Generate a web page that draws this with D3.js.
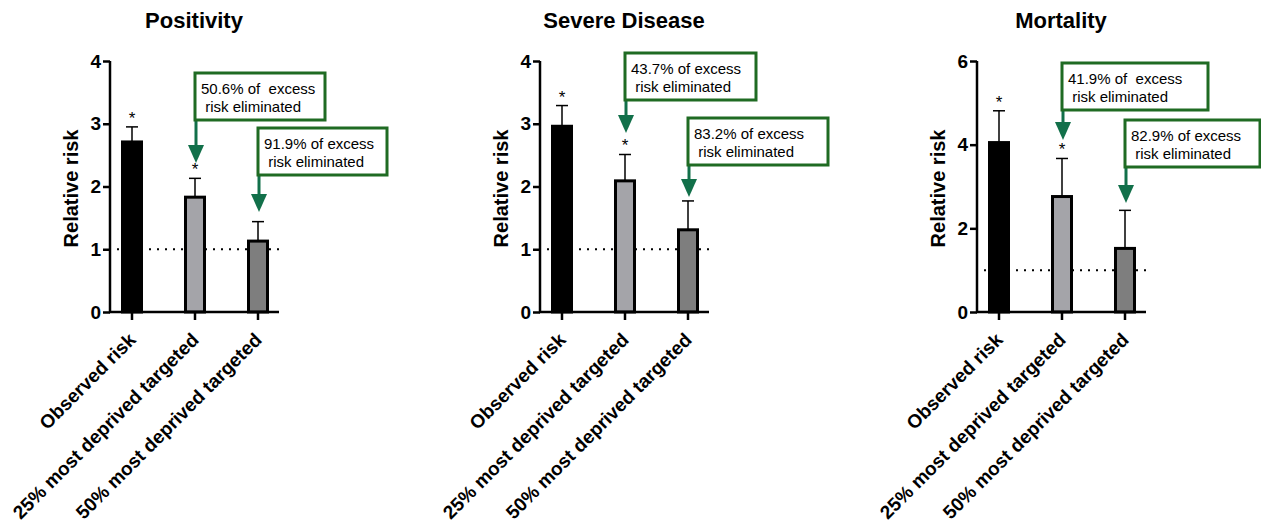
<!DOCTYPE html>
<html>
<head>
<meta charset="utf-8">
<script src="https://cdn.jsdelivr.net/npm/d3@7"></script>
<style>
  body { margin: 0; background: #fff; }
  svg { display: block; font-family: "Liberation Sans", Arial, sans-serif; }
</style>
</head>
<body>
<svg id="chart" width="1261" height="523"></svg>
<script>
// data
const categories = ["Observed risk", "25% most deprived targeted", "50% most deprived targeted"];
const panelTitles = ["Positivity", "Severe Disease", "Mortality"];
const yMax = [4, 4, 6];
const yTicks = [[0, 1, 2, 3, 4], [0, 1, 2, 3, 4], [0, 2, 4, 6]];

const positivityRR = [2.71, 1.83, 1.13];
const positivityUpper = [2.95, 2.13, 1.44];
const severeRR = [2.96, 2.09, 1.31];
const severeUpper = [3.29, 2.51, 1.77];
const mortalityRR = [4.05, 2.76, 1.52];
const mortalityUpper = [4.81, 3.67, 2.43];
const significant = [true, true, false];

const positivityNotes = [["50.6% of  excess", " risk eliminated"], ["91.9% of excess", " risk eliminated"]];
const severeNotes = [["43.7% of excess", " risk eliminated"], ["83.2% of excess", " risk eliminated"]];
const mortalityNotes = [["41.9% of  excess", " risk eliminated"], ["82.9% of excess", " risk eliminated"]];

const rrValues = [positivityRR, severeRR, mortalityRR];
const upperValues = [positivityUpper, severeUpper, mortalityUpper];
const notes = [positivityNotes, severeNotes, mortalityNotes];

// layout
const panelX = [110, 540, 977];
const plotTop = 61, plotBottom = 312;
const axisLen = 169;
const barFill = ["#000000", "#a4a4a9", "#7e7e7e"];
const boxGreen = "#1f6b23";
const arrowGreen = "#12704a";
// annotation boxes: [top, width, arrow tip y] for bar 2 and bar 3
const noteLayout = [
  [[73, 130, 163], [128, 129, 212]],
  [[53, 131, 133], [118, 140, 197]],
  [[63, 146, 140], [120, 135, 203]]
];

const svg = d3.select("#chart");

panelTitles.forEach((title, p) => {
  const x0 = panelX[p];
  const g = svg.append("g");

  const y = d3.scaleLinear().domain([0, yMax[p]]).range([plotBottom, plotTop]);
  const x = d3.scalePoint().domain(categories).range([x0 + 22, x0 + 148]);

  // title
  g.append("text")
    .attr("x", x0 + 84)
    .attr("y", 28)
    .attr("text-anchor", "middle")
    .style("font-size", "22px")
    .style("font-weight", "bold")
    .text(title);

  // y label
  g.append("text")
    .attr("transform", `translate(${x0 - 32},${(plotTop + plotBottom) / 2 + 2}) rotate(-90)`)
    .attr("text-anchor", "middle")
    .style("font-size", "20px")
    .style("font-weight", "bold")
    .text("Relative risk");

  // reference line at 1
  g.append("line")
    .attr("x1", x0 + 7).attr("x2", x0 + axisLen)
    .attr("y1", y(1)).attr("y2", y(1))
    .attr("stroke", "#000")
    .attr("stroke-width", 2)
    .attr("stroke-dasharray", "2,6");

  // error bars (upper only)
  const err = g.selectAll(".err").data(categories).enter().append("g");
  err.append("line")
    .attr("x1", d => x(d)).attr("x2", d => x(d))
    .attr("y1", (d, i) => y(rrValues[p][i]))
    .attr("y2", (d, i) => y(upperValues[p][i]))
    .attr("stroke", "#000").attr("stroke-width", 1.5);
  err.append("line")
    .attr("x1", d => x(d) - 6).attr("x2", d => x(d) + 6)
    .attr("y1", (d, i) => y(upperValues[p][i]))
    .attr("y2", (d, i) => y(upperValues[p][i]))
    .attr("stroke", "#000").attr("stroke-width", 1.5);

  // bars
  g.selectAll(".bar").data(categories).enter().append("rect")
    .attr("x", d => x(d) - 9.5)
    .attr("width", 19)
    .attr("y", (d, i) => y(rrValues[p][i]))
    .attr("height", (d, i) => y(0) - y(rrValues[p][i]))
    .attr("fill", (d, i) => barFill[i])
    .attr("stroke", "#000")
    .attr("stroke-width", 3);

  // significance stars
  g.selectAll(".star").data(categories.filter((d, i) => significant[i])).enter().append("text")
    .attr("x", d => x(d))
    .attr("y", d => y(upperValues[p][categories.indexOf(d)]) - 3)
    .attr("text-anchor", "middle")
    .style("font-size", "17px")
    .text("*");

  // axes
  const yAxis = d3.axisLeft(y).tickValues(yTicks[p]).tickSize(7).tickFormat(d3.format("d"));
  const ya = g.append("g").attr("transform", `translate(${x0},0)`).call(yAxis);
  ya.select(".domain").attr("stroke-width", 2.5).attr("d", `M0,${plotTop}V${plotBottom}`);
  ya.selectAll(".tick line").attr("stroke-width", 2.5);
  ya.selectAll(".tick text")
    .attr("x", -9)
    .style("font-size", "19px")
    .style("font-weight", "bold")
    .style("font-family", "'Liberation Sans', Arial, sans-serif");

  g.append("line")
    .attr("x1", x0 - 1).attr("x2", x0 + axisLen)
    .attr("y1", plotBottom).attr("y2", plotBottom)
    .attr("stroke", "#000").attr("stroke-width", 2.5);
  g.selectAll(".xtick").data(categories).enter().append("line")
    .attr("x1", d => x(d)).attr("x2", d => x(d))
    .attr("y1", plotBottom).attr("y2", plotBottom + 8)
    .attr("stroke", "#000").attr("stroke-width", 2.5);
  g.selectAll(".xlab").data(categories).enter().append("text")
    .attr("transform", d => `translate(${x(d) + 5},${plotBottom + 29}) rotate(-45)`)
    .attr("text-anchor", "end")
    .style("font-size", "19px")
    .style("font-weight", "bold")
    .text(d => d);

  // annotation boxes and arrows
  notes[p].forEach((lines, k) => {
    const [top, w, tip] = noteLayout[p][k];
    const ax = x(categories[k + 1]);
    const h = 47;
    g.append("line")
      .attr("x1", ax + 1).attr("x2", ax + 1)
      .attr("y1", top + h).attr("y2", tip - 14)
      .attr("stroke", arrowGreen).attr("stroke-width", 3);
    g.append("path")
      .attr("d", `M${ax + 1 - 8},${tip - 18}L${ax + 1 + 8},${tip - 18}L${ax + 1},${tip}Z`)
      .attr("fill", arrowGreen);
    g.append("rect")
      .attr("x", ax).attr("y", top)
      .attr("width", w).attr("height", h)
      .attr("fill", "#fff")
      .attr("stroke", boxGreen).attr("stroke-width", 3);
    lines.forEach((t, j) => {
      g.append("text")
        .attr("x", ax + 6)
        .attr("y", top + 21 + j * 18)
        .attr("xml:space", "preserve")
        .style("white-space", "pre")
        .style("font-size", "15px")
        .text(t);
    });
  });
});
</script>
</body>
</html>
